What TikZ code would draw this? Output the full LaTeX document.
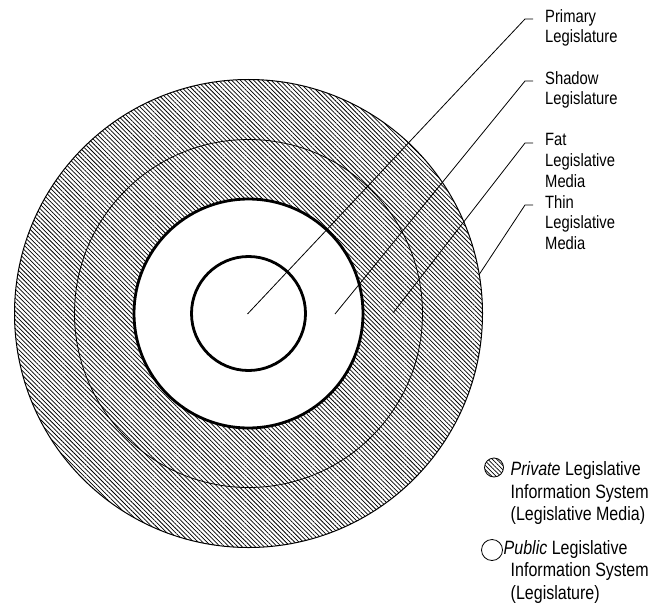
\documentclass[tikz,border=0pt]{standalone}
\usepackage{fontspec}
\setmainfont[FakeStretch=0.83]{Liberation Sans}
\usetikzlibrary{positioning,patterns.meta}

\tikzset{
	hatch/.style={pattern={Lines[angle=-45,distance=3.1pt,line width=0.75pt]}},
	ring/.style={draw,line width=#1},
}

\begin{document}
\begin{tikzpicture}[x=1pt,y=-1pt,
		lbl/.style={anchor=north west,inner sep=0pt,align=left,font=\fontsize{17.8}{20.8}\selectfont},
		legtext/.style={anchor=north west,inner sep=0pt,align=left,font=\fontsize{19.3}{22.5}\selectfont},
		leader/.style={line width=0.8pt},
		icon/.style={draw,circle,inner sep=0pt,line width=0.8pt},
	]
	\useasboundingbox (0,0) rectangle (650,607);
	\coordinate (c0) at (248.5,313.5);
	\path[hatch,even odd rule] (c0) circle[radius=234pt] (c0) circle[radius=114.5pt];
	\path[ring=1pt] (c0) circle[radius=234pt];
	\path[ring=0.8pt] (c0) circle[radius=174pt];
	\path[ring=2.8pt] (c0) circle[radius=114.5pt];
	\path[ring=2.8pt] (c0) circle[radius=57pt];
	\node[lbl] (l0) at (545,9) {Primary\\Legislature};
	\node[lbl,below=62pt of l0.north west,anchor=north west] (l1) {Shadow\\Legislature};
	\node[lbl,below=62pt of l1.north west,anchor=north west] (l2) {Fat\\Legislative\\Media};
	\node[lbl,below=62pt of l2.north west,anchor=north west] (l3) {Thin\\Legislative\\Media};
	\coordinate (p0) at (247.5,314);
	\coordinate (p1) at (335,314);
	\coordinate (p2) at (393,313);
	\coordinate (p3) at (479.5,274);
	\draw[leader] ([xshift=-12pt,yshift=-10pt]l0.north west) -- ++(-8,0) -- (p0);
	\draw[leader] ([xshift=-12pt,yshift=-10pt]l1.north west) -- ++(-8,0) -- (p1);
	\draw[leader] ([xshift=-12pt,yshift=-10pt]l2.north west) -- ++(-8,0) -- (p2);
	\draw[leader] ([xshift=-12pt,yshift=-10pt]l3.north west) -- ++(-8,0) -- (p3);
	\node[icon,hatch,minimum size=19pt] (i0) at (494,467.5) {};
	\node[legtext] (t0) at (510.5,461.5) {\textit{Private} Legislative\\Information System\\(Legislative Media)};
	\node[icon,minimum size=21pt] (i1) at (492,550) {};
	\node[legtext,below=78.5pt of t0.north west,anchor=north west] (t1) {\hspace*{-7pt}\textit{Public} Legislative\\Information System\\(Legislature)};
\end{tikzpicture}
\end{document}
